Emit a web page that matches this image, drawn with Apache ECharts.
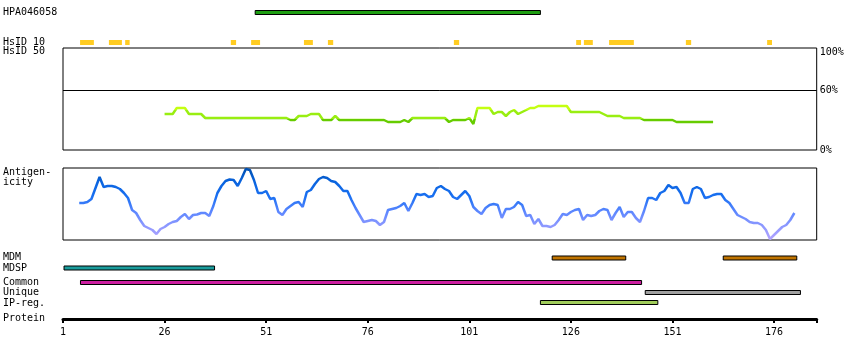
<!DOCTYPE html>
<html>
<head>
<meta charset="utf-8">
<script src="https://cdn.jsdelivr.net/npm/echarts@6/dist/echarts.min.js"></script>
<style>html,body{margin:0;padding:0;background:#fff}#c{width:850px;height:360px}</style>
</head>
<body>
<div id="c"></div>
<script>
// ---- data (residue positions and values) ----
const residueMin = 1;
const residueMax = 186.5;
const proteinTicks = [1, 26, 51, 76, 101, 126, 151, 176];

const hpaAntigen = [[48.3, 118.5]];
const hsid10 = [[5.2, 8.6], [12.3, 15.5], [16.3, 17.4], [42.3, 43.6], [47.3, 49.5], [60.3, 62.5], [66.2, 67.5],
  [97.2, 98.5], [127.3, 128.5], [129.2, 131.4], [135.4, 141.5], [154.3, 155.6], [174.3, 175.5]];

const hsid50Start = 26;
const hsid50 = [36, 36, 36, 42, 42, 42, 36, 36, 36, 36,
  32, 32, 32, 32, 32, 32, 32, 32, 32, 32, 32, 32, 32, 32, 32, 32, 32, 32, 32, 32, 32,
  30, 30, 34, 34, 34, 36, 36, 36, 30, 30, 30, 34,
  30, 30, 30, 30, 30, 30, 30, 30, 30, 30, 30, 30,
  28, 28, 28, 28, 30, 28,
  32, 32, 32, 32, 32, 32, 32, 32, 32,
  28, 30, 30, 30, 30, 32, 26, 42, 42, 42, 42,
  36, 38, 38, 34, 38, 40, 36, 38, 40, 42, 42,
  44, 44, 44, 44, 44, 44, 44, 44,
  38, 38, 38, 38, 38, 38, 38, 38, 36,
  34, 34, 34, 34, 32, 32, 32, 32, 32,
  30, 30, 30, 30, 30, 30, 30, 30,
  28, 28, 28, 28, 28, 28, 28, 28, 28, 28];

const antigenStart = 5;
const antigenicity = [37, 37, 38, 41, 52, 63,
  53, 54, 54, 53, 51, 47, 42, 30, 27, 20,
  14, 12, 10, 6, 11, 13, 16, 18, 19, 23,
  26, 21, 25, 25.5, 27, 27, 24, 34, 47, 54,
  59, 60.5, 60, 54, 62, 71, 70, 60,
  47, 47, 49, 41, 42, 28, 25, 31, 34, 37,
  38, 33, 48, 50, 56, 61, 63, 62, 59, 58,
  54, 49, 49, 40, 32, 25, 18, 19, 20, 19,
  15, 18, 30, 31, 32, 34, 37, 29, 37, 46,
  45, 46, 43, 44, 52, 54, 51, 49, 43, 41,
  45, 49, 44, 33, 29, 26, 32, 35, 36, 35,
  22, 31, 31, 33, 38, 35, 24, 25, 16, 21,
  14, 14, 13, 15, 20, 26, 25, 28, 30, 31,
  20, 25, 24, 25, 29, 31, 30, 20, 27, 33,
  23, 28, 28, 22, 18, 29, 42, 42, 40, 47,
  49, 55, 52, 53, 47, 37, 37, 51, 53, 51,
  42, 43, 45, 46, 46, 40, 37, 31, 25, 23,
  21, 18, 17, 17, 15, 10, 1, 5, 9, 13,
  15, 20, 27];

const mdm = [[121.4, 139.5], [163.5, 181.6]];
const mdsp = [[1.25, 38.3]];
const common = [[5.3, 143.4]];
const unique = [[144.3, 182.5]];
const ipReg = [[118.5, 147.4]];

const hsidLabels = [0, 60, 100];

// ---- chart ----
const FONT = '10px "DejaVu Sans Mono"';
const GL = 63, GW = 753.7;
const chart = echarts.init(document.getElementById('c'), null, {renderer: 'canvas'});

function xAx(gi, show) {
  return {gridIndex: gi, type: 'value', min: residueMin, max: residueMax, show: !!show};
}
function yCat(gi, cats) {
  return {gridIndex: gi, type: 'category', data: cats, inverse: true, show: false};
}
function barSeries(gi, items, row, color, h, noStroke) {
  return {
    type: 'custom', xAxisIndex: gi, yAxisIndex: gi,
    encode: {x: [0, 1], y: 2},
    data: items.map(d => [d[0], d[1], row]),
    renderItem: function (params, api) {
      const p0 = api.coord([api.value(0), api.value(2)]);
      const p1 = api.coord([api.value(1), api.value(2)]);
      return {type: 'rect', shape: {x: p0[0], y: p0[1] - h / 2, width: p1[0] - p0[0], height: h},
        style: {fill: color, stroke: noStroke ? null : '#000', lineWidth: 1}};
    },
    silent: true
  };
}

const grids = [
  {left: GL, width: GW, top: 6, height: 13},      // 0 HPA antigen
  {left: GL, width: GW, top: 36, height: 13},     // 1 HsID 10
  {left: GL, width: GW, top: 48, height: 102, show: true, borderColor: '#000', borderWidth: 1}, // 2 HsID 50
  {left: GL, width: GW, top: 168, height: 72, show: true, borderColor: '#000', borderWidth: 1}, // 3 antigenicity
  {left: GL, width: GW, top: 253, height: 20},    // 4 MDM/MDSP
  {left: GL, width: GW, top: 277.5, height: 30},  // 5 Common/Unique/IP-reg
  {left: GL, width: GW, top: 309, height: 10}     // 6 protein axis
];

const xAxes = [xAx(0), xAx(1), xAx(2), xAx(3), xAx(4), xAx(5),
  {gridIndex: 6, type: 'value', min: residueMin, max: residueMax, position: 'bottom',
    axisLine: {show: true, lineStyle: {color: '#000', width: 3}},
    axisTick: {show: true, length: 4, lineStyle: {color: '#000', width: 2},
      customValues: proteinTicks.concat([residueMax])},
    axisLabel: {show: true, customValues: proteinTicks, color: '#000',
      fontFamily: 'DejaVu Sans Mono', fontSize: 10, margin: 8},
    splitLine: {show: false}}
];

const yAxes = [
  yCat(0, ['HPA046058']),
  yCat(1, ['HsID 10']),
  {gridIndex: 2, type: 'value', min: 0, max: 102, position: 'right',
    axisLine: {show: false}, axisTick: {show: false}, splitLine: {show: false},
    axisLabel: {show: true, customValues: hsidLabels, color: '#000',
      fontFamily: 'DejaVu Sans Mono', fontSize: 10, margin: 3,
      formatter: v => v === 100 ? '{t|' + v + '%}' : v + '%',
      rich: {t: {fontFamily: 'DejaVu Sans Mono', fontSize: 10, color: '#000', padding: [5, 0, 0, 0]}}}},
  {gridIndex: 3, type: 'value', min: 0, max: 72, show: false},
  yCat(4, ['MDM', 'MDSP']),
  yCat(5, ['Common', 'Unique', 'IP-reg.']),
  {gridIndex: 6, type: 'value', show: false}
];

const series = [
  barSeries(0, hpaAntigen, 0, '#1e9e12', 4),
  barSeries(1, hsid10, 0, '#ffcc22', 5, true),
  {
    type: 'line', xAxisIndex: 2, yAxisIndex: 2, symbol: 'none', silent: true,
    data: hsid50.map((v, i) => [hsid50Start + i, v]),
    lineStyle: {width: 2.5},
    markLine: {silent: true, symbol: 'none', label: {show: false},
      lineStyle: {color: '#000', width: 1, type: 'solid'}, data: [{yAxis: 60}]}
  },
  {
    type: 'line', xAxisIndex: 3, yAxisIndex: 3, symbol: 'none', silent: true,
    data: antigenicity.map((v, i) => [antigenStart + i, v]),
    lineStyle: {width: 2.5}
  },
  barSeries(4, mdm, 0, '#c07400', 4),
  barSeries(4, mdsp, 1, '#1a9c9c', 4),
  barSeries(5, common, 0, '#cc1ea0', 4),
  barSeries(5, unique, 1, '#a0a0a0', 4),
  barSeries(5, ipReg, 2, '#a0cc5a', 4)
];

const leftLabels = [
  ['HPA046058', 13.5], ['HsID 10', 43], ['HsID 50', 52.5], ['Antigen-', 173], ['icity', 183],
  ['MDM', 258.5], ['MDSP', 269], ['Common', 283], ['Unique', 293], ['IP-reg.', 304], ['Protein', 319]
];

chart.setOption({
  animation: false,
  backgroundColor: '#fff',
  grid: grids,
  xAxis: xAxes,
  yAxis: yAxes,
  visualMap: [
    {type: 'piecewise', show: false, seriesIndex: 2, dimension: 1,
      pieces: [{lt: 31, color: '#66cc00'}, {gte: 31, lt: 40, color: '#99ee11'}, {gte: 40, color: '#c4ff11'}]},
    {type: 'continuous', show: false, seriesIndex: 3, dimension: 1, min: 0, max: 72,
      inRange: {color: ['#b4a4ff', '#8c98ff', '#5a86ff', '#1a70f2', '#0a64e0', '#0050b0']}}
  ],
  graphic: leftLabels.map(l => ({type: 'text', left: 3, top: l[1] - 6, silent: true,
    style: {text: l[0], font: FONT, fill: '#000'}})),
  series: series
});
</script>
</body>
</html>
